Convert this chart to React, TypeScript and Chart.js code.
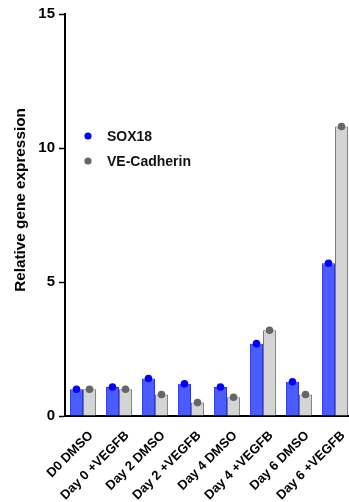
import React, { useEffect, useRef } from "react";
import { Chart, registerables } from "chart.js";

Chart.register(...registerables);

const categories = [
  "D0 DMSO",
  "Day 0 +VEGFB",
  "Day 2 DMSO",
  "Day 2 +VEGFB",
  "Day 4 DMSO",
  "Day 4 +VEGFB",
  "Day 6 DMSO",
  "Day 6 +VEGFB",
];
const sox18 = [1.0, 1.08, 1.4, 1.2, 1.08, 2.7, 1.28, 5.7];
const veCadherin = [1.0, 1.0, 0.8, 0.5, 0.7, 3.2, 0.8, 10.8];
const seriesNames = ["SOX18", "VE-Cadherin"];
const yTitle = "Relative gene expression";
const yMin = 0;
const yMax = 15;
const yStep = 5;

const FONT = "'Liberation Sans', Arial, sans-serif";
const barFill = ["#4a5cff", "#d4d4d4"];
const barBorder = ["#2233ff", "#7a7a7a"];
const dotColors = ["#0000ff", "#666666"];

const dotsPlugin = {
  id: "topDots",
  afterDatasetsDraw(chart: any) {
    const ctx = chart.ctx;
    chart.data.datasets.forEach((_ds: any, i: number) => {
      const meta = chart.getDatasetMeta(i);
      meta.data.forEach((bar: any) => {
        ctx.save();
        ctx.beginPath();
        ctx.arc(bar.x, bar.y, 3.8, 0, Math.PI * 2);
        ctx.fillStyle = dotColors[i];
        ctx.fill();
        ctx.restore();
      });
    });
  },
};

const legendPlugin = {
  id: "insideLegend",
  afterDraw(chart: any) {
    const ctx = chart.ctx;
    const { left, top } = chart.chartArea;
    seriesNames.forEach((name, i) => {
      const y = top + 122 + i * 25;
      ctx.save();
      ctx.beginPath();
      ctx.arc(left + 23, y, 3.6, 0, Math.PI * 2);
      ctx.fillStyle = dotColors[i];
      ctx.fill();
      ctx.fillStyle = "#111";
      ctx.font = `bold 14px ${FONT}`;
      ctx.textBaseline = "middle";
      ctx.textAlign = "left";
      ctx.fillText(name, left + 42, y + 1);
      ctx.restore();
    });
  },
};

const yTitlePlugin = {
  id: "yTitle",
  afterDraw(chart: any) {
    const ctx = chart.ctx;
    const { top, bottom } = chart.chartArea;
    ctx.save();
    ctx.translate(21, (top + bottom) / 2 - 15);
    ctx.rotate(-Math.PI / 2);
    ctx.fillStyle = "#000";
    ctx.font = `bold 15.3px ${FONT}`;
    ctx.textAlign = "center";
    ctx.textBaseline = "middle";
    ctx.fillText(yTitle, 0, 0);
    ctx.restore();
  },
};

export default function App() {
  const ref = useRef<HTMLCanvasElement | null>(null);

  useEffect(() => {
    if (!ref.current) return;
    Chart.defaults.font.family = FONT;
    const chart = new Chart(ref.current, {
      type: "bar",
      data: {
        labels: categories,
        datasets: [
          {
            label: seriesNames[0],
            data: sox18,
            backgroundColor: barFill[0],
            borderColor: barBorder[0],
            borderWidth: 1,
            categoryPercentage: 0.725,
            barPercentage: 1,
          },
          {
            label: seriesNames[1],
            data: veCadherin,
            backgroundColor: barFill[1],
            borderColor: barBorder[1],
            borderWidth: 1,
            categoryPercentage: 0.725,
            barPercentage: 1,
          },
        ],
      },
      options: {
        responsive: false,
        animation: false,
        layout: { padding: { top: 14, left: 0, right: 0, bottom: 0 } },
        plugins: { legend: { display: false }, tooltip: { enabled: false } },
        scales: {
          x: {
            afterFit: (s: any) => {
              s.height = 86;
            },
            grid: { display: false },
            border: { display: true, color: "#000", width: 2 },
            ticks: {
              color: "#000",
              font: { size: 13, weight: "bold" },
              minRotation: 45,
              maxRotation: 45,
              autoSkip: false,
              padding: 4,
              labelOffset: 8,
            },
          },
          y: {
            min: yMin,
            max: yMax,
            afterFit: (s: any) => {
              s.width = 65;
            },
            ticks: {
              stepSize: yStep,
              color: "#000",
              font: { size: 15, weight: "bold" },
              padding: 4,
            },
            grid: {
              drawOnChartArea: false,
              drawTicks: true,
              tickLength: 6,
              tickWidth: 1.5,
              color: "#000",
            },
            border: { display: true, color: "#000", width: 2 },
            title: { display: false },
          },
        },
      },
      plugins: [dotsPlugin, legendPlugin, yTitlePlugin],
    });
    return () => chart.destroy();
  }, []);

  return (
    <div
      style={{
        position: "absolute",
        left: 0,
        top: 0,
        width: 349,
        height: 502,
        overflow: "hidden",
        background: "#fff",
      }}
    >
      <canvas ref={ref} width={353} height={502} style={{ display: "block" }} />
    </div>
  );
}
